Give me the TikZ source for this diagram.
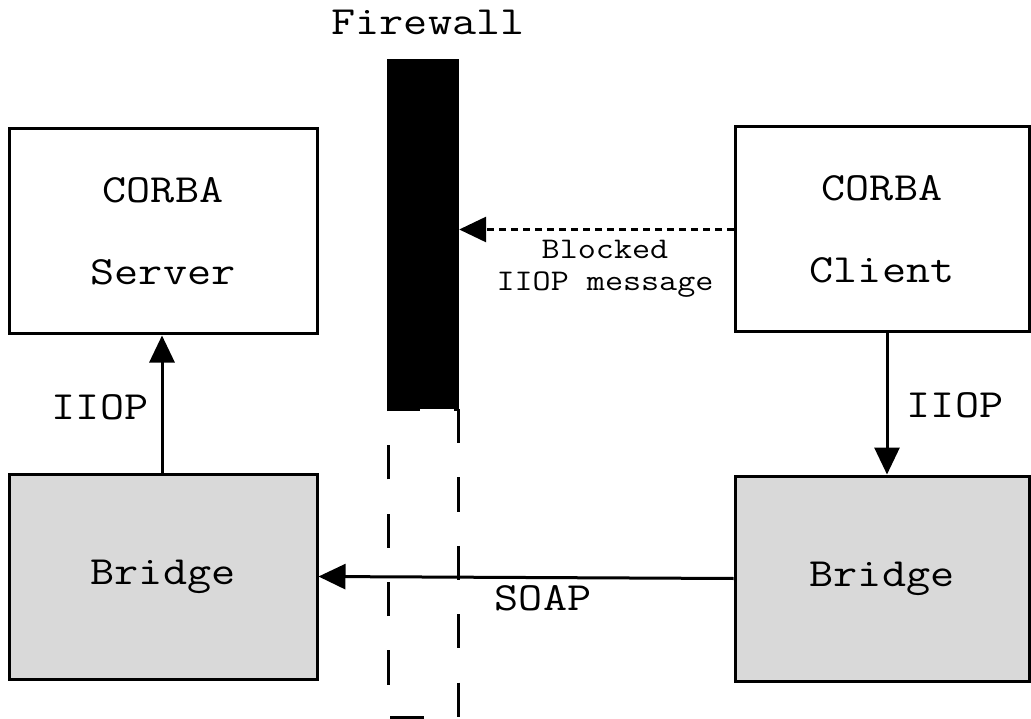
\documentclass[tikz,border=0pt]{standalone}
\usepackage{fontspec}
\setmainfont[FakeStretch=1.17]{Latin Modern Mono}
\usetikzlibrary{arrows.meta}
\tikzset{
  box/.style={draw=black, line width=3pt, fill=white, inner sep=0pt, align=center,
    minimum height=205pt, font=\fontsize{40}{82}\selectfont},
  bridgebox/.style={box, fill=gray!30},
  lbl/.style={font=\fontsize{40}{48}\selectfont, inner sep=0pt},
  small/.style={font=\fontsize{30}{32}\selectfont, inner sep=0pt, align=center},
  arr/.style={line width=3pt, -{Triangle[length=27pt,width=25pt]}},
  blocked/.style={arr, dash pattern=on 7pt off 5pt},
  wall/.style={line width=3pt, dash pattern=on 34.2pt off 34.2pt}
}
\begin{document}
\begin{tikzpicture}[x=1pt, y=-1pt]
  \useasboundingbox (0,0) rectangle (1031,719);

  % firewall: solid part and its dashed continuation
  \draw[wall] (458,409) -- (458,717) -- (388,717) -- (388,409) -- cycle;
  \node[fill=black, inner sep=0pt, minimum width=72pt, minimum height=350pt] (fw) at (423,234) {};
  \node[lbl] (fwlabel) at (428,22) {Firewall};

  % endpoints
  \node[box, minimum width=308pt] (server) at (163,231.5) {CORBA\\Server};
  \node[bridgebox, minimum width=308pt] (lbridge) at (163,576.5) {Bridge};
  \node[box, minimum width=294pt] (client) at (882,229.5) {CORBA\\Client};
  \node[bridgebox, minimum width=294pt] (rbridge) at (882,578.5) {Bridge};

  % connections
  \draw[arr] ([xshift=-1pt]lbridge.north) -- ([xshift=-1pt]server.south);
  \node[lbl] (iiopl) at (100,407) {IIOP};

  \draw[arr] ([xshift=5pt]client.south) -- ([xshift=5pt]rbridge.north);
  \node[lbl] (iiopr) at (955,405) {IIOP};

  \draw[arr] (rbridge.west) -- (lbridge.east);
  \node[lbl] (soap) at (543,598) {SOAP};

  \draw[blocked] (client.west) -- (client.west -| fw.east);
  \node[small] (blk) at (605,269) {Blocked\\IIOP message};
\end{tikzpicture}
\end{document}
